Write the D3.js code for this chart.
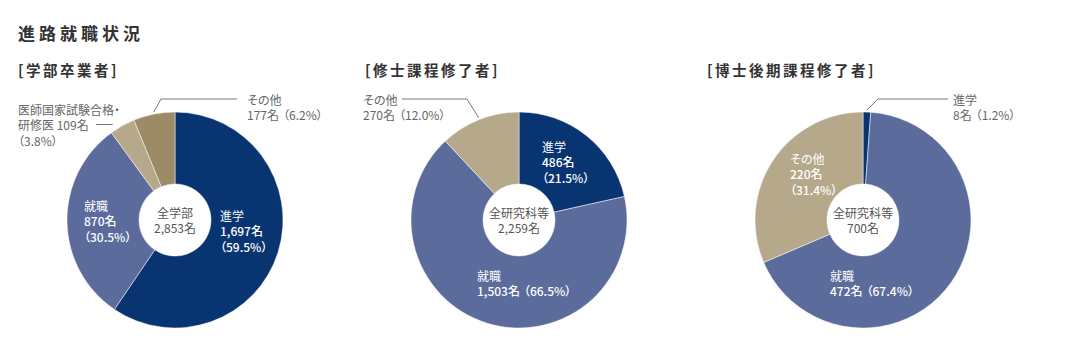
<!DOCTYPE html>
<html>
<head>
<meta charset="utf-8">
<script src="https://cdn.jsdelivr.net/npm/d3@7"></script>
<style>
  body { margin: 0; background: #fff; }
  svg { display: block; font-family: "Noto Sans CJK JP", "Noto Sans", sans-serif; font-feature-settings: "palt"; }
</style>
</head>
<body>
<svg id="chart" width="1080" height="354"></svg>
<script>
// data
var title = "進路就職状況";
var groups = ["学部卒業者", "修士課程修了者", "博士後期課程修了者"];
var centerNames = ["全学部", "全研究科等", "全研究科等"];
var totals = [2853, 2259, 700];

var undergradCats = ["進学", "就職", "医師国家試験合格・研修医", "その他"];
var undergradValues = [1697, 870, 109, 177];
var undergradPct = [59.5, 30.5, 3.8, 6.2];

var masterCats = ["進学", "就職", "その他"];
var masterValues = [486, 1503, 270];
var masterPct = [21.5, 66.5, 12.0];

var doctorCats = ["進学", "就職", "その他"];
var doctorValues = [8, 472, 220];
var doctorPct = [1.2, 67.4, 31.4];

function main() {
    var svg = d3.select("#chart");
    var fmt = d3.format(",");
    var pctFmt = d3.format(".1f");

    var colors = {
        "進学": "#083571",
        "就職": "#5a6b9c",
        "医師国家試験合格・研修医": "#b6a98b",
        "その他": "#b6a98b"
    };

    var r = 108, r0 = 36, cy = 220, lh = 15.5;

    // label layout per chart: offsets from centre, format of lines
    var layouts = [
        {
            cx: 175, titleX: 18, otherColor: "#9c8b66",
            labels: {
                "進学": { x: 45, y: -5, mode: "stack", inside: true },
                "就職": { x: -91, y: -15, mode: "stack", inside: true },
                "医師国家試験合格・研修医": { x: -157, y: -111, mode: "doctor", anchorX: -79,
                    leader: "horizontal" },
                "その他": { x: 72, y: -121, mode: "twoLine", elbow: [-14, -121], end: 62 }
            }
        },
        {
            cx: 519, titleX: 365,
            labels: {
                "進学": { x: 23, y: -74, mode: "stack", inside: true },
                "就職": { x: -42, y: 55, mode: "twoLine", inside: true },
                "その他": { x: -156, y: -121, mode: "twoLine", elbow: [-52, -121], end: -117 }
            }
        },
        {
            cx: 863, titleX: 707,
            labels: {
                "進学": { x: 90, y: -121, mode: "twoLine", elbow: [15, -121], end: 85 },
                "就職": { x: -33, y: 55, mode: "twoLine", inside: true },
                "その他": { x: -73, y: -62, mode: "stack", inside: true }
            }
        }
    ];

    var seriesList = [
        { cats: undergradCats, values: undergradValues, pct: undergradPct },
        { cats: masterCats, values: masterValues, pct: masterPct },
        { cats: doctorCats, values: doctorValues, pct: doctorPct }
    ];

    svg.append("text")
        .attr("x", 18)
        .attr("y", 32)
        .attr("dominant-baseline", "central")
        .attr("font-size", "17px")
        .attr("font-weight", "bold")
        .attr("letter-spacing", "4px")
        .attr("fill", "#333")
        .text(title);

    var pie = d3.pie().sort(null).value(function(d) { return d.value; });
    var arc = d3.arc().innerRadius(r0).outerRadius(r);

    groups.forEach(function(name, gi) {
        var lay = layouts[gi];
        var s = seriesList[gi];
        var data = s.cats.map(function(c, i) {
            return { cat: c, value: s.values[i], pct: s.pct[i] };
        });

        svg.append("text")
            .attr("x", lay.titleX)
            .attr("y", 69)
            .attr("dominant-baseline", "central")
            .attr("font-size", "14.5px")
            .attr("font-weight", "bold")
            .attr("letter-spacing", "2.5px")
            .attr("fill", "#333")
            .text("[" + name + "]");

        var g = svg.append("g")
            .attr("transform", "translate(" + lay.cx + "," + cy + ")");

        var arcs = pie(data);

        g.selectAll("path.slice")
            .data(arcs)
            .enter().append("path")
            .attr("class", "slice")
            .attr("d", arc)
            .attr("fill", function(d) {
                if (d.data.cat == "その他" && lay.otherColor) return lay.otherColor;
                return colors[d.data.cat];
            })
            .attr("stroke", "#fff")
            .attr("stroke-width", 0.5);

        // centre text
        var ct = g.append("text")
            .attr("text-anchor", "middle")
            .attr("font-size", "12px")
            .attr("fill", "#555");
        ct.append("tspan")
            .attr("x", 0).attr("y", -8)
            .attr("dominant-baseline", "central")
            .text(centerNames[gi]);
        ct.append("tspan")
            .attr("x", 0).attr("y", 7.5)
            .attr("dominant-baseline", "central")
            .text(fmt(totals[gi]) + "名");

        arcs.forEach(function(a) {
            var d = a.data;
            var L = lay.labels[d.cat];
            var num = fmt(d.value) + "名";
            var p = "（" + pctFmt(d.pct) + "%）";
            // each line: list of pieces, bold flag
            var lines;
            if (L.mode == "stack") {
                lines = [[[d.cat], false], [[num], true], [[p], true]];
            } else if (L.mode == "doctor") {
                var parts = d.cat.split("・");
                lines = [[[parts[0] + "・"], false], [[parts[1] + " " + num], false], [[p], false]];
            } else {
                lines = [[[d.cat], false], [[num, p], L.inside]];
            }

            var t = g.append("text")
                .attr("font-size", "12px")
                .attr("fill", L.inside ? "#fff" : "#666");
            lines.forEach(function(ln, li) {
                ln[0].forEach(function(piece, pi) {
                    var ts = t.append("tspan")
                        .attr("dominant-baseline", "central")
                        .attr("font-weight", ln[1] ? 500 : "normal")
                        .text(piece);
                    if (pi == 0) ts.attr("x", L.x).attr("y", L.y + li * lh);
                    else ts.attr("dx", 4);
                });
            });

            if (L.inside) return;

            var mid = (a.startAngle + a.endAngle) / 2;
            var pts;
            if (L.leader == "horizontal") {
                var ly = L.y + lh;
                var lx = -Math.sqrt((r + 6) * (r + 6) - ly * ly);
                pts = [[L.anchorX, ly], [lx, ly]];
            } else {
                var start = [Math.sin(mid) * (r + 2), -Math.cos(mid) * (r + 2)];
                pts = [start, L.elbow, [L.end, L.elbow[1]]];
            }
            g.append("path")
                .attr("d", d3.line()(pts))
                .attr("fill", "none")
                .attr("stroke", "#777")
                .attr("stroke-width", 1);
        });
    });
}
main();
</script>
</body>
</html>
